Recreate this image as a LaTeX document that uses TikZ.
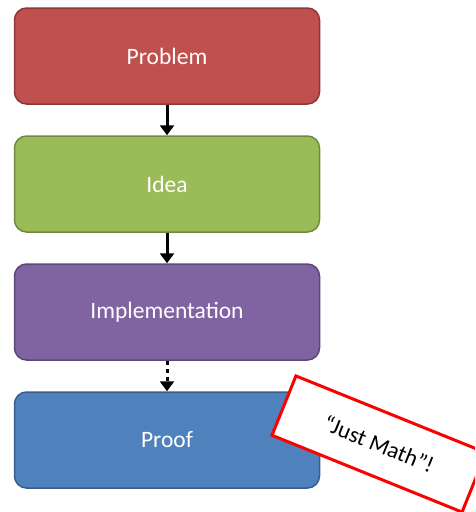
\documentclass[tikz,border=0pt]{standalone}
\usepackage{fontspec}
\setmainfont{Carlito}
\usetikzlibrary{arrows.meta}
\definecolor{probfill}{HTML}{C0504D}
\definecolor{probdraw}{HTML}{8C3836}
\definecolor{ideafill}{HTML}{9BBB59}
\definecolor{ideadraw}{HTML}{71893F}
\definecolor{implfill}{HTML}{8064A2}
\definecolor{impldraw}{HTML}{5C4776}
\definecolor{prooffill}{HTML}{4F81BD}
\definecolor{proofdraw}{HTML}{385D8A}
\definecolor{notered}{HTML}{FF0000}
\tikzset{
  stepbox/.style={rectangle, rounded corners=12pt, minimum width=305pt, minimum height=96pt,
    line width=1.5pt, text=white, font=\fontsize{23.5}{28}\selectfont, inner sep=0pt},
  flowarrow/.style={line width=3pt, -{Triangle[length=10pt,width=14pt]}},
  notebox/.style={rectangle, draw=notered, fill=white, line width=3pt, minimum width=205pt,
    minimum height=64pt, rotate=-22, font=\fontsize{23}{28}\selectfont, inner sep=0pt}
}
\begin{document}
\begin{tikzpicture}[x=1pt,y=-1pt]
\useasboundingbox (0,0) rectangle (475,512);
\clip (0,0) rectangle (475,512);
\node[stepbox, fill=probfill, draw=probdraw] (problem) at (167,56) {Problem};
\node[stepbox, fill=ideafill, draw=ideadraw] (idea) at (167,184) {Idea};
\node[stepbox, fill=implfill, draw=impldraw] (impl) at (167,312) {Implementation};
\node[stepbox, fill=prooffill, draw=proofdraw] (proof) at (167,440) {Proof};
\draw[flowarrow] (problem.south) -- (idea.north);
\draw[flowarrow] (idea.south) -- (impl.north);
\draw[flowarrow, dash pattern=on 4pt off 4pt] (impl.south) -- (proof.north);
\node[notebox] (note) at (379,444) {“Just Math”!};
\end{tikzpicture}
\end{document}
